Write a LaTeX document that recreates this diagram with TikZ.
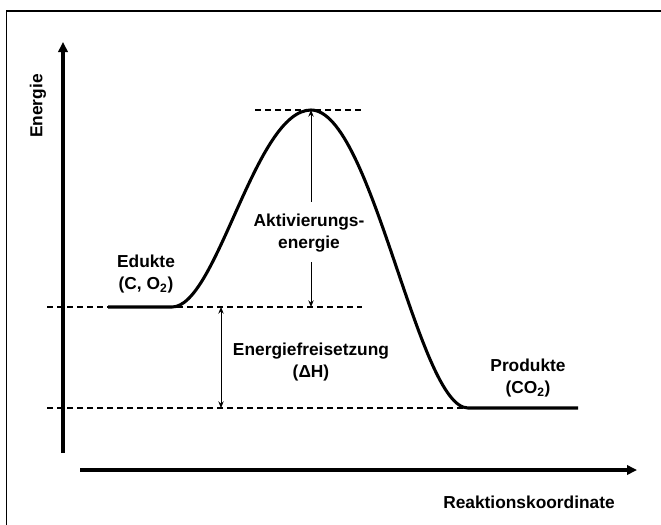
\documentclass[tikz,border=0pt]{standalone}
\usepackage{fontspec}
\setmainfont{Liberation Sans}
\usepackage{tikz}
\usetikzlibrary{arrows.meta}

\begin{document}
\begin{tikzpicture}[x=0.75pt,y=-0.75pt]
        \useasboundingbox (0,0) rectangle (661,525);
        \draw[line width=1.1pt] (6.5,525) -- (6.5,11) -- (661,11);
        \begin{scope}[every node/.style={font=\fontsize{13}{17}\selectfont\bfseries, align=center, inner sep=1pt},
                      axis/.style={line width=3pt, -{Triangle[length=7.5pt,width=7pt]}},
                      level/.style={line width=1.3pt, dash pattern=on 4.5pt off 3pt},
                      curve/.style={line width=2.3pt},
                      dim/.style={line width=0.75pt, <->, >={Stealth[length=5pt,width=4pt]}}]
                % axes
                \coordinate (YA) at (63,453);
                \coordinate (YB) at (63,42);
                \coordinate (XA) at (80,470);
                \coordinate (XB) at (637,470);
                \draw[axis] (YA) -- (YB);
                \draw[axis] (XA) -- (XB);
                \node[rotate=90] (Energie) at (38,106) {Energie};
                \node (Koord) at (529,502) {Reaktionskoordinate};

                % levels
                \coordinate (EdL) at (47,307);
                \coordinate (EdR) at (362,307);
                \coordinate (PrL) at (47,408);
                \coordinate (PrR) at (468,408);
                \coordinate (TopL) at (255,110);
                \coordinate (TopR) at (362,110);
                \draw[level] (EdL) -- (EdR);
                \draw[level] (PrL) -- (PrR);
                \draw[level] (TopL) -- (TopR);

                % energy curve
                \coordinate (Start) at (108,307);
                \coordinate (E1) at (172,307);
                \coordinate (Peak) at (311,110);
                \coordinate (P1) at (468,408);
                \coordinate (End) at (578,408);
                \draw[curve] (Start) -- (E1) .. controls (217,307) and (255,110) .. (Peak)
                        .. controls (372,110) and (418,408) .. (P1) -- (End);

                \node (Edukte) at (146,274) {Edukte\\(C, O\textsubscript{2})};
                \node (Produkte) at (528,378) {Produkte\\(CO\textsubscript{2})};

                % activation energy
                \node (Akt) at (309,233) {Aktivierungs-\\energie};
                \coordinate (AktTop) at (311,110);
                \coordinate (AktBot) at (311,307);
                \draw[dim, <-] (AktTop) -- (311,202);
                \draw[dim, ->] (311,262) -- (AktBot);

                % enthalpy
                \coordinate (DHTop) at (221,307);
                \coordinate (DHBot) at (221,408);
                \draw[dim] (DHTop) -- (DHBot);
                \node (DH) at (311,362) {Energiefreisetzung\\(ΔH)};
        \end{scope}
\end{tikzpicture}
\end{document}
